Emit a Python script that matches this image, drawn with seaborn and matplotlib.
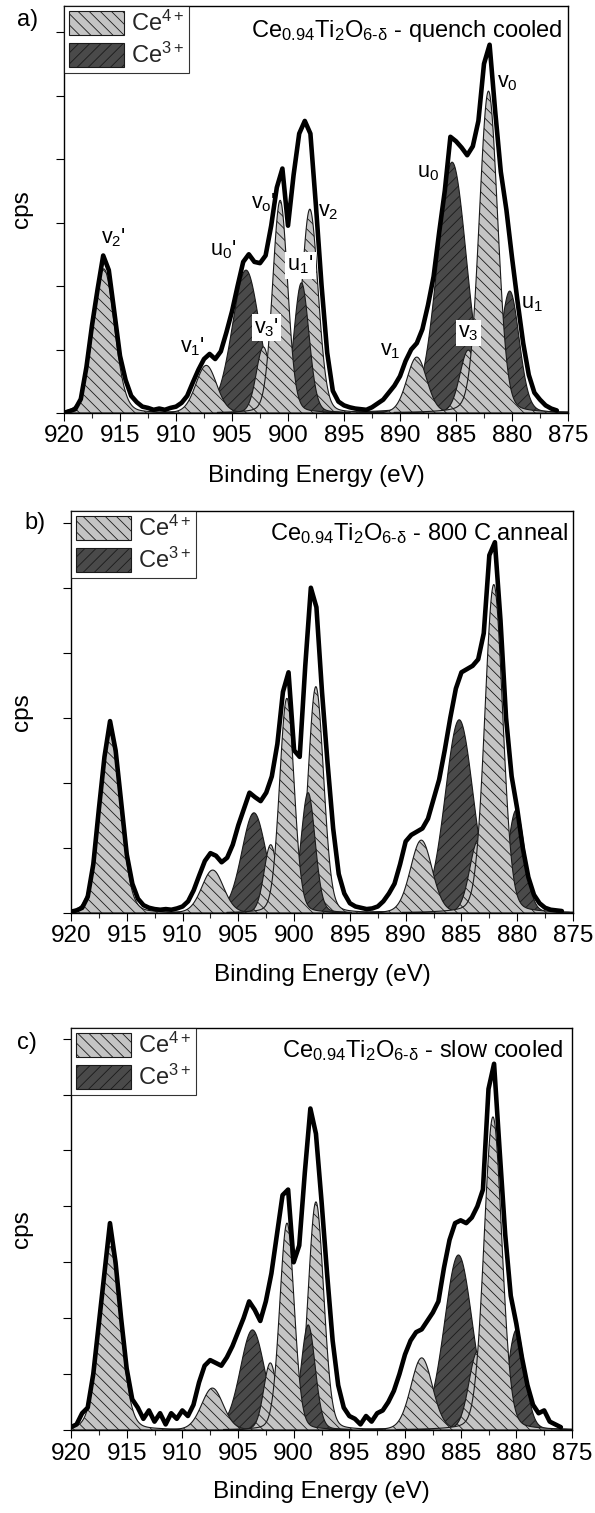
import numpy as np
import matplotlib
matplotlib.use("Agg")
import matplotlib.pyplot as plt
from matplotlib.patches import Patch
from matplotlib.ticker import MultipleLocator, AutoMinorLocator
import seaborn as sns

# ---------------- data ----------------
ENERGY_EV = [920.0, 919.5, 919.0, 918.5, 918.0, 917.5, 917.0, 916.5, 916.0, 915.5,
             915.0, 914.5, 914.0, 913.5, 913.0, 912.5, 912.0, 911.5, 911.0, 910.5,
             910.0, 909.5, 909.0, 908.5, 908.0, 907.5, 907.0, 906.5, 906.0, 905.5,
             905.0, 904.5, 904.0, 903.5, 903.0, 902.5, 902.0, 901.5, 901.0, 900.5,
             900.0, 899.5, 899.0, 898.5, 898.0, 897.5, 897.0, 896.5, 896.0, 895.5,
             895.0, 894.5, 894.0, 893.5, 893.0, 892.5, 892.0, 891.5, 891.0, 890.5,
             890.0, 889.5, 889.0, 888.5, 888.0, 887.5, 887.0, 886.5, 886.0, 885.5,
             885.0, 884.5, 884.0, 883.5, 883.0, 882.5, 882.0, 881.5, 881.0, 880.5,
             880.0, 879.5, 879.0, 878.5, 878.0, 877.5, 877.0, 876.5, 876.0]

# measured envelopes (cps, arbitrary units = y tick spacing)
ENV_A = [0.00, 0.03, 0.06, 0.22, 0.72, 1.38, 1.95, 2.48, 2.25, 1.58,
         0.90, 0.52, 0.27, 0.17, 0.10, 0.08, 0.05, 0.07, 0.05, 0.08,
         0.10, 0.16, 0.27, 0.48, 0.68, 0.85, 0.93, 0.85, 0.97, 1.27,
         1.60, 2.00, 2.38, 2.50, 2.38, 2.36, 2.48, 2.95, 3.55, 3.85,
         2.95, 3.75, 4.40, 4.60, 4.40, 3.25, 2.00, 0.95, 0.35, 0.18,
         0.12, 0.09, 0.07, 0.06, 0.05, 0.09, 0.15, 0.21, 0.32, 0.43,
         0.58, 0.82, 1.00, 1.10, 1.32, 1.70, 2.15, 2.85, 3.50, 4.35,
         4.28, 4.18, 4.06, 4.20, 4.60, 5.50, 5.80, 4.75, 3.80, 3.20,
         2.45, 1.75, 1.10, 0.60, 0.32, 0.21, 0.12, 0.07, 0.04]
ENV_B = [0.02, 0.04, 0.08, 0.25, 0.75, 1.60, 2.40, 2.95, 2.50, 1.70,
         0.90, 0.45, 0.22, 0.12, 0.08, 0.06, 0.05, 0.06, 0.05, 0.07,
         0.10, 0.18, 0.35, 0.58, 0.80, 0.92, 0.88, 0.78, 0.85, 1.05,
         1.35, 1.60, 1.85, 1.78, 1.72, 1.85, 2.10, 2.60, 3.40, 3.70,
         2.50, 2.40, 3.80, 5.00, 4.70, 3.40, 2.30, 1.30, 0.60, 0.30,
         0.15, 0.10, 0.08, 0.06, 0.07, 0.10, 0.18, 0.30, 0.45, 0.75,
         1.10, 1.20, 1.25, 1.30, 1.45, 1.75, 2.05, 2.50, 3.00, 3.45,
         3.70, 3.75, 3.80, 3.90, 4.30, 5.50, 5.70, 4.50, 3.00, 2.10,
         1.60, 1.00, 0.55, 0.28, 0.15, 0.08, 0.05, 0.04, 0.03]
ENV_C = [0.05, 0.10, 0.30, 0.40, 1.00, 1.90, 2.80, 3.70, 3.00, 2.00,
         1.10, 0.55, 0.40, 0.20, 0.35, 0.15, 0.30, 0.10, 0.30, 0.20,
         0.35, 0.25, 0.45, 0.85, 1.15, 1.25, 1.20, 1.15, 1.30, 1.50,
         1.75, 2.00, 2.30, 2.15, 1.95, 2.30, 2.80, 3.50, 4.20, 4.30,
         3.00, 3.30, 4.60, 5.75, 5.30, 4.10, 2.80, 1.60, 0.80, 0.40,
         0.25, 0.20, 0.10, 0.25, 0.15, 0.30, 0.35, 0.50, 0.70, 1.00,
         1.35, 1.60, 1.75, 1.80, 1.95, 2.10, 2.30, 2.90, 3.40, 3.70,
         3.75, 3.70, 3.80, 4.00, 4.30, 6.10, 6.55, 5.00, 3.50, 2.40,
         1.90, 1.30, 0.80, 0.45, 0.30, 0.35, 0.15, 0.10, 0.05]

# fitted components: Ce4+ order v2', v1', v3', v0', v2, v1, v3, v0
CE4_NAMES = ["v2'", "v1'", "v3'", "v0'", "v2", "v1", "v3", "v0"]
CE4_POS_A = [916.45, 907.3, 902.2, 900.7, 898.05, 888.5, 883.9, 882.1]
CE4_HGT_A = [2.27, 0.75, 1.04, 3.35, 3.21, 0.88, 0.99, 5.07]
CE4_FWHM_A = [2.25, 2.2, 1.5, 1.6, 1.75, 2.1, 1.8, 1.95]
CE4_POS_B = [916.5, 907.3, 902.1, 900.65, 898.05, 888.6, 883.5, 882.1]
CE4_HGT_B = [2.74, 0.66, 1.05, 3.30, 3.48, 1.12, 1.12, 5.05]
CE4_FWHM_B = [2.2, 2.3, 1.4, 1.55, 1.65, 2.3, 1.8, 1.9]
CE4_POS_C = [916.5, 907.3, 902.1, 900.6, 898.0, 888.5, 883.5, 882.1]
CE4_HGT_C = [3.28, 0.75, 1.20, 3.70, 4.08, 1.29, 1.40, 5.60]
CE4_FWHM_C = [2.2, 2.3, 1.4, 1.55, 1.65, 2.3, 1.8, 1.9]
# Ce3+ order u0', u1', u0, u1
CE3_NAMES = ["u0'", "u1'", "u0", "u1"]
CE3_POS_A = [903.75, 898.8, 885.35, 880.2]
CE3_HGT_A = [2.25, 2.05, 3.95, 1.92]
CE3_FWHM_A = [2.9, 1.6, 3.1, 2.0]
CE3_POS_B = [903.6, 898.75, 885.2, 880.1]
CE3_HGT_B = [1.54, 1.85, 2.97, 1.58]
CE3_FWHM_B = [2.6, 1.5, 3.0, 1.8]
CE3_POS_C = [903.7, 898.7, 885.2, 880.0]
CE3_HGT_C = [1.79, 1.88, 3.13, 1.79]
CE3_FWHM_C = [2.6, 1.5, 3.0, 1.8]

SAMPLES = ["quench cooled", "800 C anneal", "slow cooled"]
PANEL_TAGS = ["a)", "b)", "c)"]
X_TICKS = [920, 915, 910, 905, 900, 895, 890, 885, 880, 875]
Y_TOPS = [6.41, 6.18, 7.19]

# peak labels (panel a): text, energy, cps, boxed
LABEL_TEXT = [r"$\mathregular{v_{2}}$'", r"$\mathregular{v_{1}}$'", r"$\mathregular{u_{0}}$'",
              r"$\mathregular{v_{3}}$'", r"$\mathregular{v_{o}}$'", r"$\mathregular{u_{1}}$'",
              r"$\mathregular{v_{2}}$", r"$\mathregular{v_{1}}$", r"$\mathregular{u_{0}}$",
              r"$\mathregular{v_{3}}$", r"$\mathregular{u_{1}}$", r"$\mathregular{v_{0}}$"]
LABEL_E = [915.6, 908.5, 905.8, 901.9, 902.2, 898.9, 896.4, 890.9, 887.5, 883.9, 878.2, 880.4]
LABEL_Y = [2.76, 1.04, 2.57, 1.34, 3.31, 2.33, 3.17, 0.99, 3.78, 1.26, 1.73, 5.21]
LABEL_BOX = [False, False, False, True, False, True, False, False, False, True, False, False]

# ---------------- style ----------------
sns.set_theme(style="ticks")
plt.rcParams['font.family'] = ['Liberation Sans', 'DejaVu Sans']
plt.rcParams['mathtext.fontset'] = 'custom'
plt.rcParams['mathtext.rm'] = 'Liberation Sans'
plt.rcParams['mathtext.it'] = 'Liberation Sans:italic'
plt.rcParams['mathtext.bf'] = 'Liberation Sans:bold'
plt.rcParams['hatch.linewidth'] = 0.6
plt.rcParams['hatch.color'] = '#1a1a1a'

C4_FACE = '#c4c4c4'
C3_FACE = '#4a4a4a'
EDGE = '#1a1a1a'
H4 = '\\\\\\'
H3 = '///'
FS = 17.5
ETA = 0.15  # Lorentzian fraction of the pseudo-Voigt line shape

fig = plt.figure(figsize=(5.95, 15.13), dpi=100)
W, H = 595.0, 1513.0
rects = [(64, 6, 568, 413), (71, 511, 573, 913), (71, 1028, 572, 1430)]
tag_xy = [(28, 20), (35, 523), (27, 1043)]
title_pos = [(0.988, 0.924), (0.990, 0.928), (0.982, 0.928)]

comp = [
    (CE4_POS_A, CE4_HGT_A, CE4_FWHM_A, CE3_POS_A, CE3_HGT_A, CE3_FWHM_A),
    (CE4_POS_B, CE4_HGT_B, CE4_FWHM_B, CE3_POS_B, CE3_HGT_B, CE3_FWHM_B),
    (CE4_POS_C, CE4_HGT_C, CE4_FWHM_C, CE3_POS_C, CE3_HGT_C, CE3_FWHM_C),
]
envs = [ENV_A, ENV_B, ENV_C]

xf = np.linspace(875.0, 920.0, 1801)


def line_shape(pos, hgt, fwhm):
    d = (xf - pos) / (fwhm / 2.0)
    g = np.exp(-np.log(2.0) * d ** 2)
    lz = 1.0 / (1.0 + d ** 2)
    return hgt * ((1 - ETA) * g + ETA * lz)


for i in range(3):
    l, t, r, b = rects[i]
    ax = fig.add_axes([l / W, 1 - b / H, (r - l) / W, (b - t) / H])
    p4, h4, w4, p3, h3, w3 = comp[i]

    def draw4(k):
        y = line_shape(p4[k], h4[k], w4[k])
        ax.fill_between(xf, 0, y, where=y > 0.01, facecolor=C4_FACE, edgecolor=EDGE,
                        hatch=H4, linewidth=0.8, zorder=2)

    def draw3(k):
        y = line_shape(p3[k], h3[k], w3[k])
        ax.fill_between(xf, 0, y, where=y > 0.01, facecolor=C3_FACE, edgecolor=EDGE,
                        hatch=H3, linewidth=0.8, zorder=2)

    # drawing order: 3d5/2 Ce3+, 3d5/2 Ce4+, 3d3/2 Ce3+, 3d3/2 Ce4+
    for k in (2, 3):
        draw3(k)
    for k in (4, 5, 6, 7):
        draw4(k)
    for k in (0, 1):
        draw3(k)
    for k in (0, 1, 2, 3):
        draw4(k)

    sns.lineplot(x=ENERGY_EV, y=envs[i], ax=ax, color='black', linewidth=3.3,
                 sort=False, estimator=None, zorder=4)

    ax.set_xlim(920, 875)
    ax.set_ylim(0, Y_TOPS[i])
    ax.set_xticks(X_TICKS)
    ax.set_xticklabels([str(v) for v in X_TICKS])
    ax.xaxis.set_minor_locator(AutoMinorLocator(2))
    ax.yaxis.set_major_locator(MultipleLocator(1))
    ax.tick_params(axis='both', which='major', direction='out', length=6, width=0.8,
                   labelsize=FS, color='black', labelcolor='black', pad=3)
    ax.tick_params(axis='x', which='minor', direction='out', length=3.5, width=0.8)
    ax.tick_params(axis='y', labelleft=False)
    for sp in ax.spines.values():
        sp.set_visible(True)
        sp.set_linewidth(1.0)
        sp.set_color('black')

    ax.set_xlabel("Binding Energy (eV)", fontsize=FS, color='black')
    ax.set_ylabel("cps", fontsize=FS, color='black')
    ax.xaxis.set_label_coords(0.5, -(465 - 413) / 407.0)
    ax.yaxis.set_label_coords(-(l - 33) / (r - l), 0.5)

    handles = [Patch(facecolor=C4_FACE, edgecolor=EDGE, hatch=H4, linewidth=0.8),
               Patch(facecolor=C3_FACE, edgecolor=EDGE, hatch=H3, linewidth=0.8)]
    leg = ax.legend(handles, [r"Ce$^{4+}$", r"Ce$^{3+}$"], loc='upper left',
                    bbox_to_anchor=(0, 1), borderaxespad=0, fontsize=17,
                    handlelength=2.35, handleheight=1.15, labelspacing=0.3,
                    handletextpad=0.3, borderpad=0.2, frameon=True, fancybox=False)
    leg.get_frame().set_edgecolor('black')
    leg.get_frame().set_linewidth(0.8)
    leg.set_zorder(6)

    tx, ty = title_pos[i]
    ax.text(tx, ty, r"Ce$_{0.94}$Ti$_{2}$O$_{\text{6-δ}}$ - " + SAMPLES[i],
            transform=ax.transAxes, ha='right', va='baseline', fontsize=17, color='black',
            zorder=6)

    fig.text(tag_xy[i][0] / W, 1 - tag_xy[i][1] / H, PANEL_TAGS[i], fontsize=17,
             ha='center', va='center', color='black')

    if i == 0:
        for txt, e, yv, boxed in zip(LABEL_TEXT, LABEL_E, LABEL_Y, LABEL_BOX):
            kw = {}
            if boxed:
                kw['bbox'] = dict(facecolor='white', edgecolor='none', pad=1.5)
            ax.text(e, yv, txt, ha='center', va='center', fontsize=15.5,
                    color='black', zorder=5, **kw)

fig.savefig("out.png", dpi=100)
